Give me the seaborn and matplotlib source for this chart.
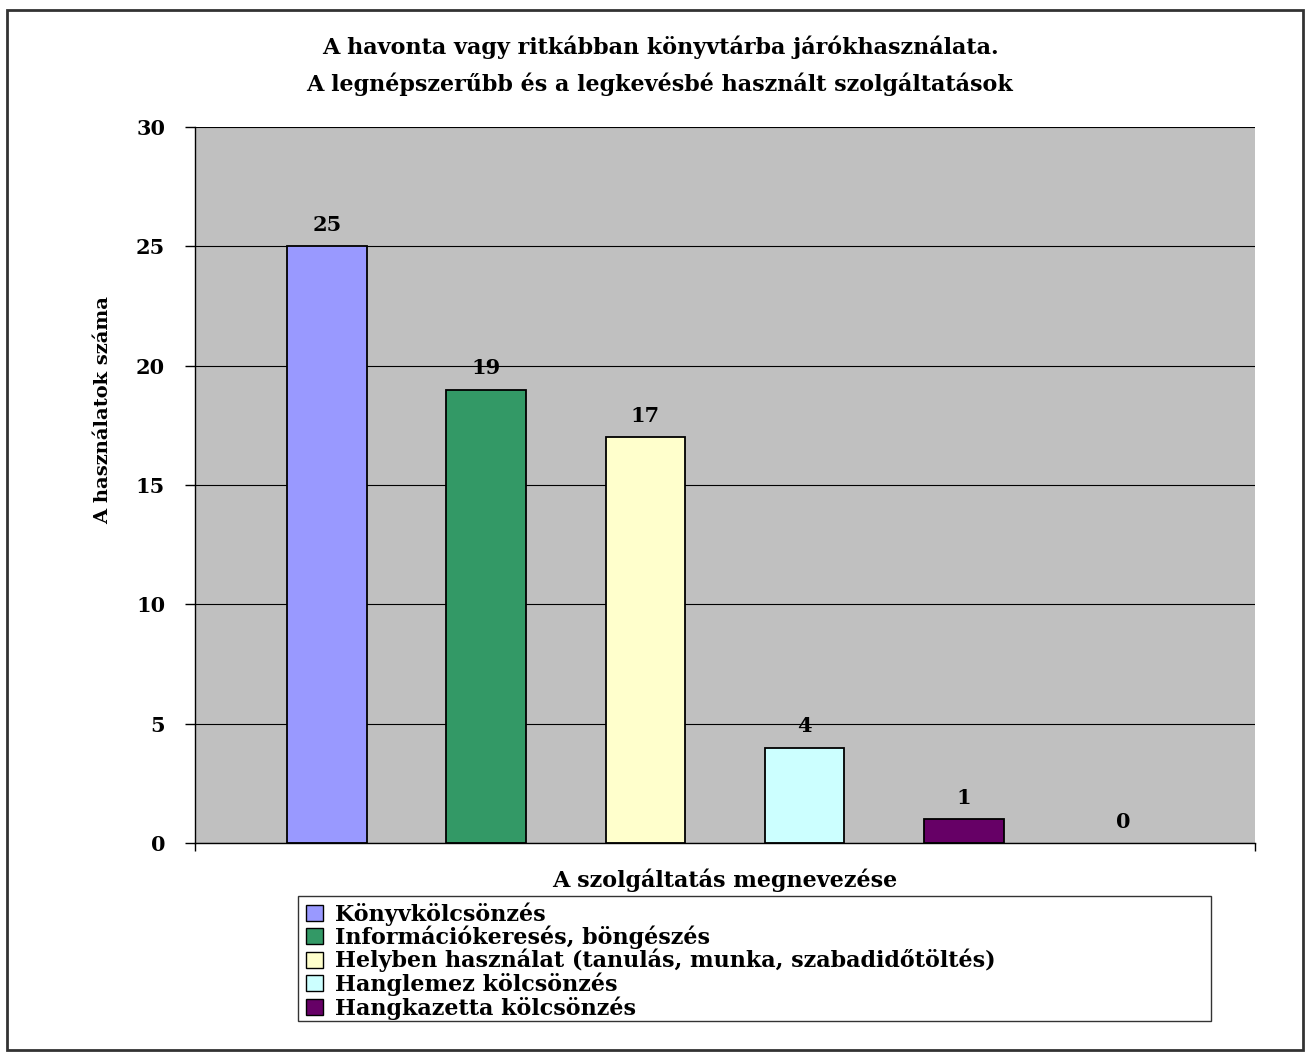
import matplotlib
matplotlib.use("Agg")
import matplotlib.pyplot as plt
from matplotlib.patches import Rectangle, Patch
import seaborn as sns
import pandas as pd

# Services and how many respondents used them
services = [
    "Könyvkölcsönzés",
    "Információkeresés, böngészés",
    "Helyben használat (tanulás, munka, szabadidőtöltés)",
    "Hanglemez kölcsönzés",
    "Hangkazetta kölcsönzés",
    "",
]
counts = [25, 19, 17, 4, 1, 0]
bar_colors = ["#9999FF", "#339966", "#FFFFCC", "#CCFFFF", "#660066", "#C0C0C0"]
y_ticks = [0, 5, 10, 15, 20, 25, 30]

title_text = ("A havonta vagy ritkábban könyvtárba járókhasználata.\n"
              "A legnépszerűbb és a legkevésbé használt szolgáltatások")
x_label = "A szolgáltatás megnevezése"
y_label = "A használatok száma"

sns.set_theme(style="white")
plt.rcParams["font.family"] = ["DejaVu Serif"]
plt.rcParams["font.weight"] = "bold"
plt.rcParams["text.color"] = "black"
plt.rcParams["xtick.color"] = "black"
plt.rcParams["ytick.color"] = "black"

FS_NUM = 15
FS_TXT = 16

W, H = 1307, 1055
fig = plt.figure(figsize=(W / 100, H / 100), dpi=100)
fig.patch.set_facecolor("white")

ax = fig.add_axes([195 / W, 1 - 843 / H, (1255 - 195) / W, (843 - 127) / H])
ax.set_facecolor("#C0C0C0")

df = pd.DataFrame({"service": services, "count": counts})
sns.barplot(data=df, x="service", y="count", hue="service", order=services,
            hue_order=services, palette=bar_colors, width=0.5,
            edgecolor="black", linewidth=1.3, saturation=1, legend=False, ax=ax)

for cont in ax.containers:
    for bar in cont:
        if bar.get_height() == 0:
            bar.set_linewidth(0)
    ax.bar_label(cont, fmt="%d", padding=8, fontsize=FS_NUM, fontweight="bold", color="black")

ax.set_ylim(0, 30)
ax.set_xlim(-0.828, len(services) - 1 + 0.828)
ax.set_yticks(y_ticks)
ax.set_yticklabels([str(v) for v in y_ticks], fontsize=FS_NUM, fontweight="bold")
ax.set_xticks([-0.828, len(services) - 1 + 0.828])
ax.set_xticklabels(["", ""])
ax.tick_params(axis="y", direction="out", length=7.5, width=1, color="black", pad=14, left=True)
ax.tick_params(axis="x", direction="out", length=6, width=1, color="black", bottom=True)

ax.yaxis.grid(True, color="black", linewidth=0.8)
ax.set_axisbelow(True)
for side in ["top", "right"]:
    ax.spines[side].set_visible(False)
for side in ["left", "bottom"]:
    ax.spines[side].set_color("black")
    ax.spines[side].set_linewidth(1.0)

ax.set_xlabel("")
ax.set_ylabel("")
fig.text(725 / W, 1 - 880 / H, x_label, ha="center", va="center", fontsize=FS_TXT, fontweight="bold")
fig.text(103 / W, 1 - 410 / H, y_label, ha="center", va="center", rotation=90,
         fontsize=14, fontweight="bold")
fig.text(660 / W, 1 - 66 / H, title_text, ha="center", va="center", fontsize=FS_TXT,
         fontweight="bold", linespacing=1.75)

# Legend: frame and entries for the named services
fig.patches.append(Rectangle((298 / W, 1 - 1021 / H), (1211 - 298) / W, (1021 - 896) / H,
                             transform=fig.transFigure, facecolor="white",
                             edgecolor="#333333", linewidth=1.0, zorder=1))
handles = [Patch(facecolor=c, edgecolor="black", linewidth=1.0)
           for s, c in zip(services, bar_colors) if s]
labels = [s for s in services if s]
leg = fig.legend(handles, labels, loc="upper left",
                 bbox_to_anchor=(306 / W, 1 - 902 / H), frameon=False,
                 fontsize=FS_TXT, handlelength=0.75, handleheight=0.75,
                 handletextpad=0.55, labelspacing=0.0, borderpad=0, borderaxespad=0)
for t in leg.get_texts():
    t.set_fontweight("bold")

# Outer chart border
fig.patches.append(Rectangle((7 / W, 1 - 1050 / H), (1303 - 7) / W, (1050 - 10) / H,
                             transform=fig.transFigure, fill=False,
                             edgecolor="#333333", linewidth=2.0, zorder=0))

fig.savefig("out.png", dpi=100)
